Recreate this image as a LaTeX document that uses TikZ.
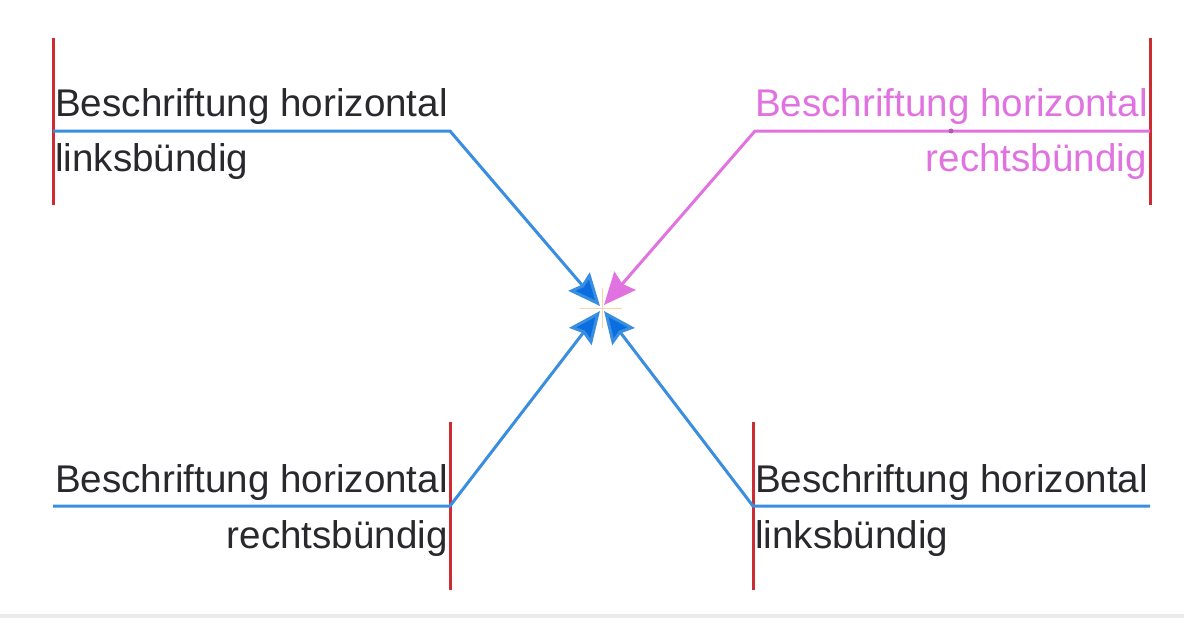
\documentclass[tikz,border=0pt]{standalone}
\usepackage{fontspec}
\setmainfont{Liberation Sans}
\usetikzlibrary{arrows.meta}
\definecolor{lblue}{RGB}{58,142,224}
\definecolor{tipblue}{RGB}{10,110,225}
\definecolor{lpink}{RGB}{225,115,225}
\definecolor{lred}{RGB}{205,45,50}
\definecolor{txt}{RGB}{40,40,45}
\tikzset{
  lbl/.style={inner sep=0pt, font=\fontsize{38.6}{42}\selectfont, text=txt},
  plbl/.style={lbl, text=lpink},
  bar/.style={draw=lred, line width=3pt},
  leader/.style={draw=lblue, line width=3pt, -{Stealth[length=32pt,width=28pt,inset=4pt,fill=tipblue]}},
  pleader/.style={draw=lpink, line width=3pt, -{Stealth[length=32pt,width=28pt,inset=4pt,fill=lpink]}}
}
\begin{document}
\begin{tikzpicture}[x=1pt,y=-1pt]
\useasboundingbox (0,0) rectangle (1184,618);
\fill[white] (0,0) rectangle (1184,618);
\fill[black!8] (0,614) rectangle (1184,618);
% faint crosshair at target
\draw[orange!35, line width=1pt] (580,308) -- (622,308);
\draw[orange!35, line width=1pt] (602,288) -- (602,328);
% reference bars
\coordinate (r1a) at (53,38);   \coordinate (r1b) at (53,205);
\coordinate (r2a) at (1150,38); \coordinate (r2b) at (1150,205);
\coordinate (r3a) at (450,422); \coordinate (r3b) at (450,590);
\coordinate (r4a) at (753,422); \coordinate (r4b) at (753,590);
\draw[bar] (r1a) -- (r1b);
\draw[bar] (r2a) -- (r2b);
\draw[bar] (r3a) -- (r3b);
\draw[bar] (r4a) -- (r4b);
% labels
\node[lbl, anchor=base west] (t1a) at (55,117) {Beschriftung horizontal};
\node[lbl, anchor=base west] (t1b) at (55,171) {linksbündig};
\node[plbl, anchor=base east] (t2a) at (1148,117) {Beschriftung horizontal};
\node[plbl, anchor=base east] (t2b) at (1147,171) {rechtsbündig};
\node[lbl, anchor=base east] (t3a) at (448,492) {Beschriftung horizontal};
\node[lbl, anchor=base east] (t3b) at (448,548) {rechtsbündig};
\node[lbl, anchor=base west] (t4a) at (755,492) {Beschriftung horizontal};
\node[lbl, anchor=base west] (t4b) at (755,548) {linksbündig};
% leader corners and targets
\coordinate (s1) at (53,131);   \coordinate (k1) at (450,131);  \coordinate (e1) at (600,306);
\coordinate (s2) at (1150,131); \coordinate (k2) at (755,131);  \coordinate (e2) at (604,305);
\coordinate (s3) at (53,506);   \coordinate (k3) at (450,506);  \coordinate (e3) at (600,311);
\coordinate (s4) at (1150,506); \coordinate (k4) at (753,506);  \coordinate (e4) at (604,311);
\draw[leader] (s1) -- (k1) -- (e1);
\draw[pleader] (s2) -- (k2) -- (e2);
\draw[leader] (s3) -- (k3) -- (e3);
\draw[leader] (s4) -- (k4) -- (e4);
\fill[lpink!80!black] (951,131) circle (2.5pt);
\end{tikzpicture}
\end{document}
